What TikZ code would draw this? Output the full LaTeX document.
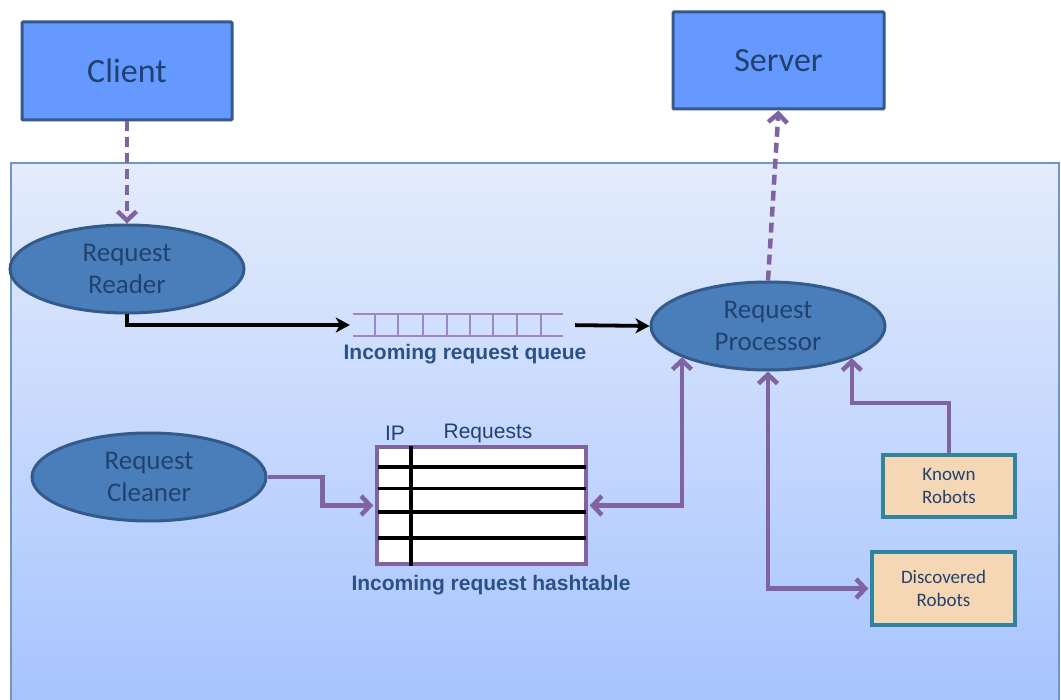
\documentclass[tikz,border=0pt]{standalone}
\usepackage{fontspec}
\setmainfont{Carlito}
\newfontfamily\arialfont{Liberation Sans}
\usetikzlibrary{shapes.geometric,arrows.meta}
\definecolor{purp}{HTML}{8064A2}
\definecolor{qpurp}{HTML}{9F86C4}
\definecolor{ellfill}{HTML}{4A7EBB}
\definecolor{ellbord}{HTML}{345A8A}
\definecolor{boxfill}{HTML}{6699FF}
\definecolor{txtblue}{HTML}{21426F}
\definecolor{lblblue}{HTML}{2C5183}
\definecolor{peach}{HTML}{F5D7B6}
\definecolor{teal}{HTML}{31849B}
\definecolor{paneltop}{HTML}{E4ECFC}
\definecolor{panelbot}{HTML}{A6C3FE}
\definecolor{panelbord}{HTML}{7096C8}
\tikzset{
  >={Straight Barb[length=9pt,width=19pt]},
  bigbox/.style={draw=ellbord, line width=3pt, fill=boxfill, rounded corners=1pt,
    inner sep=0pt, text=txtblue, font=\fontsize{34}{40}\selectfont},
  proc/.style={ellipse, draw=ellbord, line width=3pt, fill=ellfill,
    minimum width=234pt, minimum height=88pt, inner sep=0pt, align=center,
    text=txtblue, font=\fontsize{27}{32}\selectfont},
  robot/.style={draw=teal, line width=3.5pt, fill=peach, inner sep=0pt, align=center,
    text=txtblue, font=\fontsize{19}{23}\selectfont},
  plink/.style={draw=purp, line width=4.5pt},
  dlink/.style={plink, dash pattern=on 10pt off 6pt, ->},
  blink/.style={draw=black, line width=3.8pt, -{Stealth[length=14pt,width=15pt,inset=4pt]}},
  lbl/.style={font=\arialfont\bfseries\fontsize{21}{24}\selectfont, text=lblblue, inner sep=0pt},
  hdr/.style={font=\arialfont\fontsize{21}{24}\selectfont, text=txtblue, inner sep=0pt}
}
\begin{document}
\begin{tikzpicture}[x=1pt,y=-1pt]
\useasboundingbox (0,0) rectangle (1061,700);
\fill[white] (0,0) rectangle (1061,700);
% panel
\shade[top color=paneltop, bottom color=panelbot] (11,163) rectangle (1059,712);
\draw[panelbord, line width=1.5pt] (11,712) -- (11,163) -- (1059,163) -- (1059,712);

% nodes
\node[bigbox, minimum width=210pt, minimum height=98pt] (client) at (127,71) {Client};
\node[bigbox, minimum width=211pt, minimum height=97pt] (server) at (778.5,60.5) {Server};
\node[proc] (reader) at (127,269) {Request\\Reader};
\node[proc] (procr) at (768,326) {Request\\Processor};
\node[proc] (cleaner) at (149,477) {Request\\Cleaner};
\node[robot, minimum width=132pt, minimum height=62pt] (known) at (949,486) {Known\\Robots};
\node[robot, minimum width=143pt, minimum height=73pt] (disc) at (943.5,588.5) {Discovered\\Robots};

% queue
\node[minimum width=210pt, minimum height=21pt, inner sep=0pt] (queue) at (458,325) {};
\draw[qpurp, line width=2pt] (queue.north west) -- (queue.north east)
  (queue.south west) -- (queue.south east);
\foreach \xx in {375,398,423,447,470,493,517,541}
  \draw[qpurp, line width=2pt] (\xx,314.5) -- (\xx,335.5);
\node[lbl] (qlabel) at (465,354) {Incoming request queue};

% hashtable
\node[draw=purp, line width=3.5pt, fill=white, minimum width=209pt, minimum height=117pt, inner sep=0pt] (ht) at (481.5,505.5) {};
\foreach \yy in {467,488.5,512,538}
  \draw[black, line width=3.8pt] (378,\yy) -- (586,\yy);
\draw[black, line width=3.8pt] (411,446) -- (411,566);
\node[hdr] (iphdr) at (395,433) {IP};
\node[hdr] (reqhdr) at (488,433) {Requests};
\node[lbl] (htlabel) at (491,585) {Incoming request hashtable};

% connectors
\draw[dlink] (client.south) -- (reader.north);
\draw[dlink] (procr.north) -- (server.south);
\draw[blink] (reader.south) |- ([xshift=-3pt]queue.west);
\draw[blink, shorten <=12pt] (queue.east) -- (procr.west);
\draw[plink, ->] (cleaner.east) -- ++(55,0) |- ([xshift=-2pt]ht.west);
\draw[plink, <->] ([xshift=2pt]ht.east) -| (procr.200.7);
\draw[plink, <->] (procr.south) |- ([xshift=-2pt]disc.west);
\draw[plink, ->] (known.north) -- ++(0,-50) -| (procr.339.3);
\end{tikzpicture}
\end{document}
